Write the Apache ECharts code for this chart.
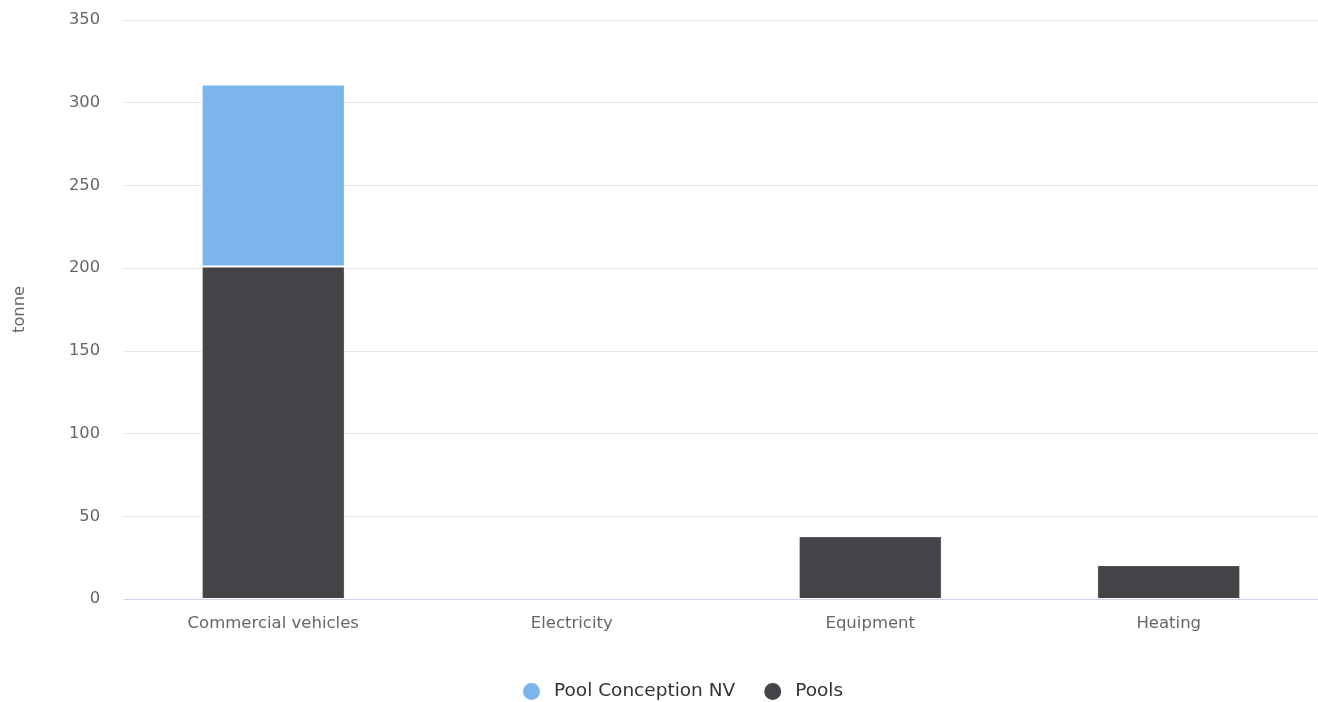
<!DOCTYPE html>
<html>
<head>
<meta charset="utf-8">
<script src="https://cdn.jsdelivr.net/npm/echarts@6/dist/echarts.min.js"></script>
<style>
  html, body { margin: 0; padding: 0; background: #fff; }
  #chart { width: 1318px; height: 702px; }
</style>
</head>
<body>
<div id="chart"></div>
<script>
// Emissions by activity, stacked per source
const categories = ['Commercial vehicles', 'Electricity', 'Equipment', 'Heating'];
const poolConceptionNV = [110, 0, 0, 0];
const pools = [201, 0, 38, 20.5];
const yTicks = { min: 0, max: 350, interval: 50 };

const font = '"DejaVu Sans", Verdana, sans-serif';
const chart = echarts.init(document.getElementById('chart'));
chart.setOption({
  animation: false,
  grid: { left: 124, right: 0, top: 20, bottom: 103, containLabel: false },
  legend: {
    left: 516,
    top: 676,
    itemGap: 27,
    icon: 'circle',
    itemWidth: 19,
    itemHeight: 19,
    textStyle: { color: '#333333', fontSize: 18.5, fontFamily: font, padding: [0, 0, 0, 8] },
    data: ['Pool Conception NV', 'Pools']
  },
  xAxis: {
    type: 'category',
    data: categories,
    z: 3,
    axisLine: { lineStyle: { color: '#ccd6eb', width: 1 } },
    axisTick: { show: false },
    axisLabel: { color: '#666666', fontSize: 16.5, fontFamily: font, margin: 16 }
  },
  yAxis: {
    type: 'value',
    min: yTicks.min,
    max: yTicks.max,
    interval: yTicks.interval,
    name: 'tonne',
    nameLocation: 'middle',
    nameGap: 96,
    nameTextStyle: { color: '#666666', fontSize: 16.3, fontFamily: font },
    axisLine: { show: false },
    axisTick: { show: false },
    splitLine: { lineStyle: { color: '#e6e6e6', width: 1 } },
    axisLabel: { color: '#666666', fontSize: 16.3, fontFamily: font, margin: 24 }
  },
  series: [
    {
      name: 'Pools',
      type: 'bar',
      stack: 'total',
      barWidth: '48%',
      data: pools,
      itemStyle: { color: '#434348', borderColor: '#ffffff', borderWidth: 1 }
    },
    {
      name: 'Pool Conception NV',
      type: 'bar',
      stack: 'total',
      barWidth: '48%',
      data: poolConceptionNV,
      itemStyle: { color: '#7cb5ec', borderColor: '#ffffff', borderWidth: 1 }
    }
  ]
});
</script>
</body>
</html>
